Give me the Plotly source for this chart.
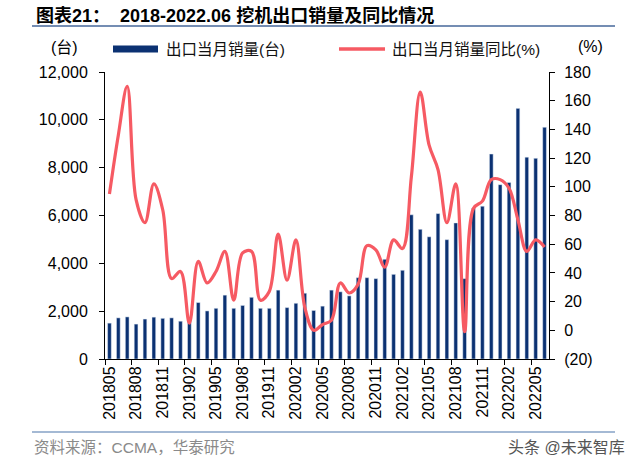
import plotly.graph_objects as go

# ---- data ----
months = ["201805","201806","201807","201808","201809","201810","201811","201812",
          "201901","201902","201903","201904","201905","201906","201907","201908","201909","201910","201911","201912",
          "202001","202002","202003","202004","202005","202006","202007","202008","202009","202010","202011","202012",
          "202101","202102","202103","202104","202105","202106","202107","202108","202109","202110","202111","202112",
          "202201","202202","202203","202204","202205","202206"]
sales = [1500, 1720, 1760, 1460, 1670, 1750, 1700, 1720,
         1580, 1600, 2360, 2010, 2120, 2670, 2120, 2240, 2580, 2120, 2120, 2880,
         2150, 2330, 2750, 2030, 2210, 2880, 2810, 2640, 3400, 3400, 3360, 4170,
         3540, 3710, 6030, 5420, 5110, 6080, 4990, 5690, 3360, 6310, 6390, 8570,
         7290, 7380, 10480, 8440, 8390, 9690]
yoy = [95, 136, 170, 91, 75, 102, 84, 36,
       41, 5, 48, 33, 41, 55, 21, 54, 55, 21, 27, 67,
       35, 63, 16, 0, 4, 7, 33, 26, 32, 59, 56, 44,
       63, 57, 107, 166, 129, 112, 75, 102, -1, 85, 90, 105,
       105, 99, 77, 55, 63, 58]
left_ticks = [0, 2000, 4000, 6000, 8000, 10000, 12000]
right_ticks = [-20, 0, 20, 40, 60, 80, 100, 120, 140, 160, 180]
right_text = ["(20)" if v < 0 else str(v) for v in right_ticks]
label_step = 3
bar_name = "出口当月销量(台)"
line_name = "出口当月销量同比(%)"
title_text = "图表21：  2018-2022.06 挖机出口销量及同比情况"
source_text = "资料来源：CCMA，华泰研究"
watermark = "头条 @未来智库"

# ---- layout geometry ----
W, H = 640, 467
L, R, T, B = 105, 549, 72, 359
PW, PH = R - L, B - T
def px(x): return (x - L) / PW
def py(y): return (B - y) / PH

FONT = "Liberation Sans, 'Noto Sans CJK SC', sans-serif"
BAR_C = "#0B3172"
LINE_C = "#F65A63"

idx = list(range(len(months)))
fig = go.Figure()
fig.add_trace(go.Bar(x=idx, y=sales, name=bar_name, marker_color=BAR_C,
                     width=0.42, yaxis="y"))
fig.add_trace(go.Scatter(x=idx, y=yoy, name=line_name, mode="lines",
                         line=dict(color=LINE_C, width=3.2, shape="spline", smoothing=1.0),
                         yaxis="y2"))

tickvals = idx[::label_step]
ticktext = months[::label_step]
minor_vals = [v - 0.5 for v in tickvals]

fig.update_layout(
    width=W, height=H,
    margin=dict(l=L, r=W - R, t=T, b=H - B),
    paper_bgcolor="white", plot_bgcolor="white",
    showlegend=False,
    font=dict(family=FONT, size=16, color="black"),
    xaxis=dict(range=[-0.5, len(months) - 0.5], tickmode="array",
               tickvals=tickvals, ticktext=ticktext, tickangle=-90,
               ticks="", showline=True, linecolor="black", linewidth=1,
               showgrid=False, zeroline=False,
               tickfont=dict(size=16),
               minor=dict(tickmode="array", tickvals=minor_vals, ticks="outside",
                          ticklen=5, tickcolor="black", tickwidth=1, showgrid=False)),
    yaxis=dict(range=[0, 12000], tickvals=left_ticks, tickformat=",",
               ticks="outside", ticklen=5, tickcolor="black",
               showline=True, linecolor="black", linewidth=1,
               showgrid=False, zeroline=False, ticklabelstandoff=8),
    yaxis2=dict(range=[-20, 180], tickvals=right_ticks, ticktext=right_text,
                overlaying="y", side="right",
                ticks="outside", ticklen=5, tickcolor="black",
                showline=True, linecolor="black", linewidth=1,
                showgrid=False, zeroline=False, ticklabelstandoff=6),
    bargap=0.5,
)

shapes = [
    dict(type="line", xref="paper", yref="paper", x0=px(32), x1=px(615), y0=py(26), y1=py(26),
         line=dict(color="#46679A", width=1.5)),
    dict(type="line", xref="paper", yref="paper", x0=px(32), x1=px(615), y0=py(432), y1=py(432),
         line=dict(color="#86A2C6", width=1.5)),
    dict(type="rect", xref="paper", yref="paper", x0=px(113), x1=px(158), y0=py(52.5), y1=py(45.5),
         fillcolor=BAR_C, line=dict(width=0)),
    dict(type="line", xref="paper", yref="paper", x0=px(339), x1=px(385), y0=py(49), y1=py(49),
         line=dict(color=LINE_C, width=3.5)),
]
fig.update_layout(shapes=shapes)

ann = [
    dict(text="<b>" + title_text + "</b>", x=px(34), y=py(15), xanchor="left", yanchor="middle",
         font=dict(size=18, color="black")),
    dict(text=bar_name, x=px(164), y=py(49), xanchor="left", yanchor="middle",
         font=dict(size=15.5, color="#111")),
    dict(text=line_name, x=px(390), y=py(49), xanchor="left", yanchor="middle",
         font=dict(size=15.5, color="#111")),
    dict(text="(台)", x=px(64), y=py(47), xanchor="center", yanchor="middle",
         font=dict(size=16, color="black")),
    dict(text="(%)", x=px(590), y=py(46), xanchor="center", yanchor="middle",
         font=dict(size=16, color="black")),
    dict(text=source_text, x=px(32), y=py(447), xanchor="left", yanchor="middle",
         font=dict(size=15.5, color="#8A8A8A")),
    dict(text=watermark, x=px(627), y=py(447), xanchor="right", yanchor="middle",
         font=dict(size=16, color="#555555")),
]
for a in ann:
    a.update(xref="paper", yref="paper", showarrow=False)
fig.update_layout(annotations=ann)

fig.write_html("out.html", config={"displayModeBar": False},
               post_script="document.body.style.margin='0';document.body.style.overflow='hidden';")
